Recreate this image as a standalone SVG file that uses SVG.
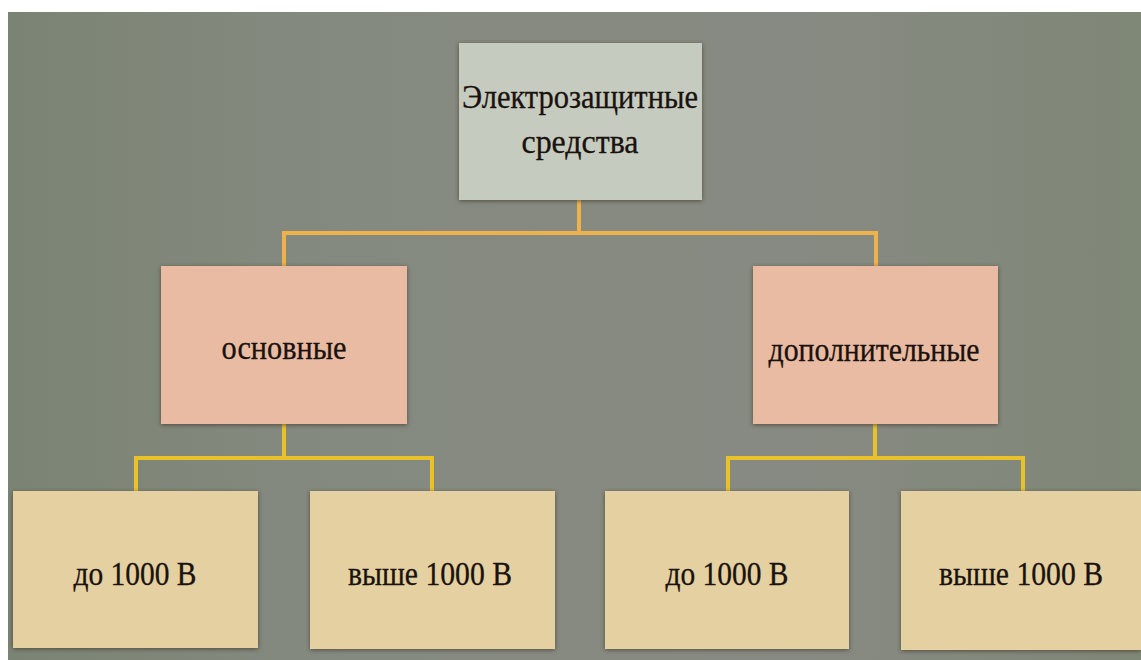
<svg xmlns="http://www.w3.org/2000/svg" width="1141" height="660" viewBox="0 0 1141 660">
<defs>
<linearGradient id="bg" x1="0" y1="0" x2="1" y2="0">
<stop offset="0" stop-color="#7b8474"/>
<stop offset="0.3" stop-color="#858a80"/>
<stop offset="0.7" stop-color="#878a82"/>
<stop offset="1" stop-color="#7f8777"/>
</linearGradient>
<filter id="sh" x="-10%" y="-10%" width="120%" height="120%">
<feDropShadow dx="0" dy="1" stdDeviation="2" flood-color="#3a2e20" flood-opacity="0.7"/>
</filter>
<style>
.t{font-family:'Liberation Serif','Times New Roman',serif;font-size:33px;fill:#1a120e;stroke:#1a120e;stroke-width:0.3;text-anchor:middle}
.top{fill:#c6cbc0}
.mid{fill:#e9bba2}
.bot{fill:#e4d0a0}
.c1{fill:none;stroke:#efb24a;stroke-width:4}
.c2{fill:none;stroke:#e9c22a;stroke-width:4}
</style>
</defs>
<rect x="0" y="0" width="1141" height="660" fill="#ffffff"/>
<rect x="8" y="12" width="1133" height="648" fill="url(#bg)"/>
<g id="connectors">
<path class="c1" d="M579,200 V233 M284,266 V233 H876 V266"/>
<path class="c2" d="M284,424 V458 M136,491 V458 H432 V491"/>
<path class="c2" d="M875,424 V458 M728,491 V458 H1023 V491"/>
</g>
<g id="n-root">
<rect class="top" x="459" y="43" width="243" height="157" filter="url(#sh)"/>
<text class="t" x="580" y="108" textLength="236" lengthAdjust="spacingAndGlyphs">Электрозащитные</text>
<text class="t" x="580" y="153" textLength="117" lengthAdjust="spacingAndGlyphs">средства</text>
</g>
<g id="n-osn">
<rect class="mid" x="161" y="266" width="246" height="158" filter="url(#sh)"/>
<text class="t" x="284" y="359" textLength="125" lengthAdjust="spacingAndGlyphs">основные</text>
</g>
<g id="n-dop">
<rect class="mid" x="753" y="266" width="245" height="158" filter="url(#sh)"/>
<text class="t" x="874" y="361" textLength="211" lengthAdjust="spacingAndGlyphs">дополнительные</text>
</g>
<g id="n-b1">
<rect class="bot" x="13" y="491" width="245" height="157" filter="url(#sh)"/>
<text class="t" x="135" y="585" textLength="123" lengthAdjust="spacingAndGlyphs">до 1000 В</text>
</g>
<g id="n-b2">
<rect class="bot" x="310" y="491" width="245" height="158" filter="url(#sh)"/>
<text class="t" x="430" y="585" textLength="164" lengthAdjust="spacingAndGlyphs">выше 1000 В</text>
</g>
<g id="n-b3">
<rect class="bot" x="605" y="491" width="244" height="158" filter="url(#sh)"/>
<text class="t" x="727" y="585" textLength="123" lengthAdjust="spacingAndGlyphs">до 1000 В</text>
</g>
<g id="n-b4">
<rect class="bot" x="901" y="491" width="240" height="159" filter="url(#sh)"/>
<text class="t" x="1021" y="585" textLength="164" lengthAdjust="spacingAndGlyphs">выше 1000 В</text>
</g>
</svg>
